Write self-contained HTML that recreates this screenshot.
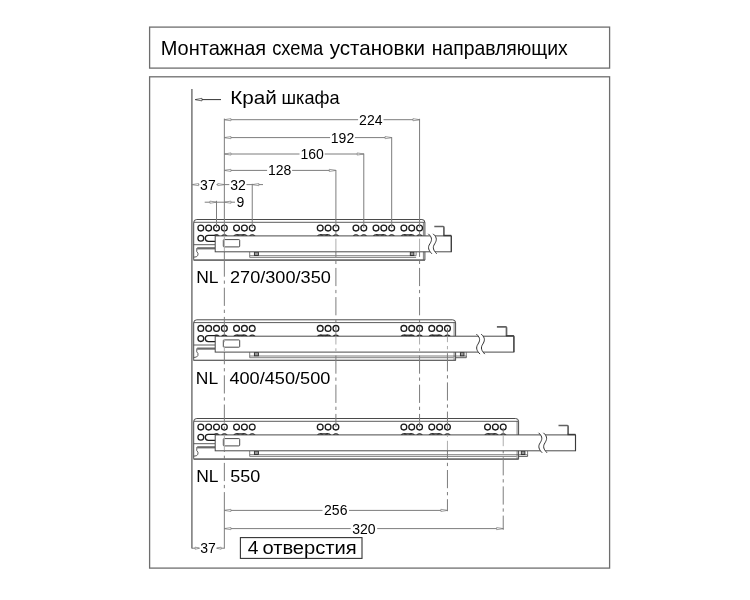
<!DOCTYPE html>
<html><head><meta charset="utf-8"><title>Монтажная схема</title>
<style>
html,body{margin:0;padding:0;background:#fff;}
body{width:750px;height:600px;overflow:hidden;font-family:"Liberation Sans",sans-serif;}
svg{display:block;}
svg text{font-family:"Liberation Sans",sans-serif;fill:#000;}
svg{will-change:transform;filter:grayscale(1);}
</style></head><body>
<svg width="750" height="600" viewBox="0 0 750 600">
<rect width="750" height="600" fill="#fff"/>
<defs><clipPath id="slides"><rect x="215.7" y="236.3" width="211" height="14.7"/><rect x="215.7" y="336.6" width="259" height="14.7"/><rect x="215.7" y="435.3" width="322" height="14.7"/></clipPath></defs>
<rect x="149.6" y="27.1" width="460" height="41" fill="#fff" stroke="#6e6e6e" stroke-width="1.3"/>
<rect x="149.6" y="76.8" width="460" height="491.3" fill="#fff" stroke="#6e6e6e" stroke-width="1.3"/>
<text x="160.70" y="55.30" font-size="19.8" text-anchor="start" textLength="105.5" lengthAdjust="spacingAndGlyphs">Монтажная</text>
<text x="272.20" y="55.30" font-size="19.8" text-anchor="start" textLength="51.1" lengthAdjust="spacingAndGlyphs">схема</text>
<text x="329.70" y="55.30" font-size="19.8" text-anchor="start" textLength="95.2" lengthAdjust="spacingAndGlyphs">установки</text>
<text x="431.70" y="55.30" font-size="19.8" text-anchor="start" textLength="136.1" lengthAdjust="spacingAndGlyphs">направляющих</text>
<text x="230.20" y="104.10" font-size="18.2" text-anchor="start" textLength="46.6" lengthAdjust="spacingAndGlyphs">Край</text>
<text x="281.50" y="104.10" font-size="18.2" text-anchor="start" textLength="58.1" lengthAdjust="spacingAndGlyphs">шкафа</text>
<line x1="191.90" y1="89.00" x2="191.90" y2="548.60" stroke="#6c6c6c" stroke-width="1.4" />
<line x1="195.50" y1="99.60" x2="221.00" y2="99.60" stroke="#333" stroke-width="1" />
<path d="M195.20 99.60 L202.00 98.30 L202.00 100.90 Z" fill="#fff" stroke="#333" stroke-width="0.7"/>
<line x1="224.35" y1="119.70" x2="358.10" y2="119.70" stroke="#7d7d7d" stroke-width="1" />
<line x1="383.50" y1="119.70" x2="419.57" y2="119.70" stroke="#7d7d7d" stroke-width="1" />
<path d="M224.35 119.70 L230.95 118.60 L230.95 120.80 Z" fill="#fff" stroke="#7d7d7d" stroke-width="0.7"/>
<path d="M419.57 119.70 L412.97 118.60 L412.97 120.80 Z" fill="#fff" stroke="#7d7d7d" stroke-width="0.7"/>
<text x="370.80" y="124.60" font-size="14" text-anchor="middle">224</text>
<line x1="224.35" y1="137.60" x2="330.10" y2="137.60" stroke="#7d7d7d" stroke-width="1" />
<line x1="354.90" y1="137.60" x2="391.68" y2="137.60" stroke="#7d7d7d" stroke-width="1" />
<path d="M224.35 137.60 L230.95 136.50 L230.95 138.70 Z" fill="#fff" stroke="#7d7d7d" stroke-width="0.7"/>
<path d="M391.68 137.60 L385.08 136.50 L385.08 138.70 Z" fill="#fff" stroke="#7d7d7d" stroke-width="0.7"/>
<text x="342.50" y="142.50" font-size="14" text-anchor="middle">192</text>
<line x1="224.35" y1="154.00" x2="299.50" y2="154.00" stroke="#7d7d7d" stroke-width="1" />
<line x1="324.70" y1="154.00" x2="363.79" y2="154.00" stroke="#7d7d7d" stroke-width="1" />
<path d="M224.35 154.00 L230.95 152.90 L230.95 155.10 Z" fill="#fff" stroke="#7d7d7d" stroke-width="0.7"/>
<path d="M363.79 154.00 L357.19 152.90 L357.19 155.10 Z" fill="#fff" stroke="#7d7d7d" stroke-width="0.7"/>
<text x="312.10" y="158.90" font-size="14" text-anchor="middle">160</text>
<line x1="224.35" y1="170.40" x2="267.10" y2="170.40" stroke="#7d7d7d" stroke-width="1" />
<line x1="292.10" y1="170.40" x2="335.90" y2="170.40" stroke="#7d7d7d" stroke-width="1" />
<path d="M224.35 170.40 L230.95 169.30 L230.95 171.50 Z" fill="#fff" stroke="#7d7d7d" stroke-width="0.7"/>
<path d="M335.90 170.40 L329.30 169.30 L329.30 171.50 Z" fill="#fff" stroke="#7d7d7d" stroke-width="0.7"/>
<text x="279.60" y="175.30" font-size="14" text-anchor="middle">128</text>
<line x1="192.00" y1="184.60" x2="199.30" y2="184.60" stroke="#7d7d7d" stroke-width="1" />
<line x1="216.50" y1="184.60" x2="229.30" y2="184.60" stroke="#7d7d7d" stroke-width="1" />
<line x1="246.50" y1="184.60" x2="263.00" y2="184.60" stroke="#7d7d7d" stroke-width="1" />
<path d="M192.00 184.60 L198.60 183.50 L198.60 185.70 Z" fill="#fff" stroke="#7d7d7d" stroke-width="0.7"/>
<path d="M224.35 184.60 L217.75 183.50 L217.75 185.70 Z" fill="#fff" stroke="#7d7d7d" stroke-width="0.7"/>
<path d="M252.24 184.60 L258.84 183.50 L258.84 185.70 Z" fill="#fff" stroke="#7d7d7d" stroke-width="0.7"/>
<text x="207.90" y="189.50" font-size="14" text-anchor="middle">37</text>
<text x="238.00" y="189.50" font-size="14" text-anchor="middle">32</text>
<line x1="204.70" y1="202.20" x2="235.00" y2="202.20" stroke="#7d7d7d" stroke-width="1" />
<path d="M216.51 202.20 L209.91 201.10 L209.91 203.30 Z" fill="#fff" stroke="#7d7d7d" stroke-width="0.7"/>
<path d="M224.35 202.20 L230.95 201.10 L230.95 203.30 Z" fill="#fff" stroke="#7d7d7d" stroke-width="0.7"/>
<text x="240.40" y="207.10" font-size="14" text-anchor="middle">9</text>
<line x1="224.35" y1="510.40" x2="322.50" y2="510.40" stroke="#7d7d7d" stroke-width="1" />
<line x1="349.00" y1="510.40" x2="447.45" y2="510.40" stroke="#7d7d7d" stroke-width="1" />
<path d="M224.35 510.40 L230.95 509.30 L230.95 511.50 Z" fill="#fff" stroke="#7d7d7d" stroke-width="0.7"/>
<path d="M447.45 510.40 L440.85 509.30 L440.85 511.50 Z" fill="#fff" stroke="#7d7d7d" stroke-width="0.7"/>
<text x="335.75" y="515.30" font-size="14" text-anchor="middle">256</text>
<line x1="224.35" y1="528.60" x2="350.70" y2="528.60" stroke="#7d7d7d" stroke-width="1" />
<line x1="377.20" y1="528.60" x2="503.23" y2="528.60" stroke="#7d7d7d" stroke-width="1" />
<path d="M224.35 528.60 L230.95 527.50 L230.95 529.70 Z" fill="#fff" stroke="#7d7d7d" stroke-width="0.7"/>
<path d="M503.23 528.60 L496.63 527.50 L496.63 529.70 Z" fill="#fff" stroke="#7d7d7d" stroke-width="0.7"/>
<text x="363.95" y="533.50" font-size="14" text-anchor="middle">320</text>
<line x1="224.35" y1="501.00" x2="224.35" y2="548.60" stroke="#7d7d7d" stroke-width="1" />
<line x1="192.00" y1="548.20" x2="199.20" y2="548.20" stroke="#7d7d7d" stroke-width="1" />
<line x1="216.80" y1="548.20" x2="224.35" y2="548.20" stroke="#7d7d7d" stroke-width="1" />
<path d="M199.60 548.20 L195.10 547.10 L195.10 549.30 Z" fill="#fff" stroke="#7d7d7d" stroke-width="0.7"/>
<path d="M216.60 548.20 L221.10 547.10 L221.10 549.30 Z" fill="#fff" stroke="#7d7d7d" stroke-width="0.7"/>
<text x="208.00" y="553.10" font-size="14" text-anchor="middle">37</text>
<rect x="240.4" y="537.6" width="121.6" height="20.8" fill="#fff" stroke="#333" stroke-width="1.1"/>
<text x="247.80" y="553.70" font-size="18" text-anchor="start" textLength="10.7" lengthAdjust="spacingAndGlyphs">4</text>
<text x="262.40" y="553.70" font-size="18" text-anchor="start" textLength="94.4" lengthAdjust="spacingAndGlyphs">отверстия</text>
<g transform="translate(0,0)">
<path d="M193.7 259.6 L193.7 222.6 Q193.7 219.5 196.8 219.5 L421.90 219.5 Q424.90 219.5 424.90 222.5 L424.90 260.1 L193.7 260.1 Z" fill="#fff" stroke="#4a4a4a" stroke-width="1"/>
<line x1="193.70" y1="222.30" x2="424.90" y2="222.30" stroke="#4a4a4a" stroke-width="0.9" />
<line x1="423.40" y1="222.30" x2="423.40" y2="260.10" stroke="#4a4a4a" stroke-width="0.7" />
<line x1="193.70" y1="260.10" x2="424.90" y2="260.10" stroke="#666" stroke-width="1.2" />
<line x1="193.70" y1="244.70" x2="215.20" y2="244.70" stroke="#4a4a4a" stroke-width="0.9" />
<line x1="197.20" y1="248.30" x2="215.20" y2="248.30" stroke="#6a6a6a" stroke-width="2.2" />
<path d="M196.9 248 L196.7 251.5 Q198.6 253 197.9 255.2 Q197.3 257.2 193.7 257.2" fill="none" stroke="#4a4a4a" stroke-width="0.9"/>
<circle cx="200.82" cy="228.1" r="2.9" fill="#fff" stroke="#1c1c1c" stroke-width="1.3"/>
<circle cx="208.66" cy="228.1" r="2.9" fill="#fff" stroke="#1c1c1c" stroke-width="1.3"/>
<circle cx="216.51" cy="228.1" r="2.9" fill="#fff" stroke="#1c1c1c" stroke-width="1.3"/>
<circle cx="216.51" cy="237.8" r="2.95" fill="#fff" stroke="#1c1c1c" stroke-width="1.3"/>
<circle cx="224.35" cy="228.1" r="2.9" fill="#fff" stroke="#1c1c1c" stroke-width="1.3"/>
<circle cx="224.35" cy="237.8" r="2.95" fill="#fff" stroke="#1c1c1c" stroke-width="1.3"/>
<circle cx="236.55" cy="228.1" r="2.9" fill="#fff" stroke="#1c1c1c" stroke-width="1.3"/>
<circle cx="236.55" cy="237.8" r="2.95" fill="#fff" stroke="#1c1c1c" stroke-width="1.3"/>
<circle cx="244.39" cy="228.1" r="2.9" fill="#fff" stroke="#1c1c1c" stroke-width="1.3"/>
<circle cx="244.39" cy="237.8" r="2.95" fill="#fff" stroke="#1c1c1c" stroke-width="1.3"/>
<circle cx="252.24" cy="228.1" r="2.9" fill="#fff" stroke="#1c1c1c" stroke-width="1.3"/>
<circle cx="252.24" cy="237.8" r="2.95" fill="#fff" stroke="#1c1c1c" stroke-width="1.3"/>
<circle cx="320.22" cy="228.1" r="2.9" fill="#fff" stroke="#1c1c1c" stroke-width="1.3"/>
<circle cx="320.22" cy="237.8" r="2.95" fill="#fff" stroke="#1c1c1c" stroke-width="1.3"/>
<circle cx="328.06" cy="228.1" r="2.9" fill="#fff" stroke="#1c1c1c" stroke-width="1.3"/>
<circle cx="328.06" cy="237.8" r="2.95" fill="#fff" stroke="#1c1c1c" stroke-width="1.3"/>
<circle cx="335.90" cy="228.1" r="2.9" fill="#fff" stroke="#1c1c1c" stroke-width="1.3"/>
<circle cx="335.90" cy="237.8" r="2.95" fill="#fff" stroke="#1c1c1c" stroke-width="1.3"/>
<circle cx="355.95" cy="228.1" r="2.9" fill="#fff" stroke="#1c1c1c" stroke-width="1.3"/>
<circle cx="355.95" cy="237.8" r="2.95" fill="#fff" stroke="#1c1c1c" stroke-width="1.3"/>
<circle cx="363.79" cy="228.1" r="2.9" fill="#fff" stroke="#1c1c1c" stroke-width="1.3"/>
<circle cx="363.79" cy="237.8" r="2.95" fill="#fff" stroke="#1c1c1c" stroke-width="1.3"/>
<circle cx="375.99" cy="228.1" r="2.9" fill="#fff" stroke="#1c1c1c" stroke-width="1.3"/>
<circle cx="375.99" cy="237.8" r="2.95" fill="#fff" stroke="#1c1c1c" stroke-width="1.3"/>
<circle cx="383.83" cy="228.1" r="2.9" fill="#fff" stroke="#1c1c1c" stroke-width="1.3"/>
<circle cx="383.83" cy="237.8" r="2.95" fill="#fff" stroke="#1c1c1c" stroke-width="1.3"/>
<circle cx="391.68" cy="228.1" r="2.9" fill="#fff" stroke="#1c1c1c" stroke-width="1.3"/>
<circle cx="391.68" cy="237.8" r="2.95" fill="#fff" stroke="#1c1c1c" stroke-width="1.3"/>
<circle cx="403.88" cy="228.1" r="2.9" fill="#fff" stroke="#1c1c1c" stroke-width="1.3"/>
<circle cx="403.88" cy="237.8" r="2.95" fill="#fff" stroke="#1c1c1c" stroke-width="1.3"/>
<circle cx="411.72" cy="228.1" r="2.9" fill="#fff" stroke="#1c1c1c" stroke-width="1.3"/>
<circle cx="411.72" cy="237.8" r="2.95" fill="#fff" stroke="#1c1c1c" stroke-width="1.3"/>
<circle cx="419.57" cy="228.1" r="2.9" fill="#fff" stroke="#1c1c1c" stroke-width="1.3"/>
<circle cx="419.57" cy="237.8" r="2.95" fill="#fff" stroke="#1c1c1c" stroke-width="1.3"/>
<line x1="236.55" y1="234.95" x2="244.39" y2="234.95" stroke="#1c1c1c" stroke-width="1.3" />
<line x1="320.22" y1="234.95" x2="328.06" y2="234.95" stroke="#1c1c1c" stroke-width="1.3" />
<line x1="375.99" y1="234.95" x2="383.83" y2="234.95" stroke="#1c1c1c" stroke-width="1.3" />
<line x1="403.88" y1="234.95" x2="411.72" y2="234.95" stroke="#1c1c1c" stroke-width="1.3" />
<circle cx="200.82" cy="238.3" r="2.9" fill="#fff" stroke="#1c1c1c" stroke-width="1.3"/>
<path d="M218 235.3 L208.3 235.3 A3 3 0 0 0 208.3 241.3 L218 241.3" fill="#fff" stroke="#1c1c1c" stroke-width="1.3"/>
<path d="M249.7 251.8 L249.7 257.4 L416.10 257.4" fill="none" stroke="#555" stroke-width="0.75"/>
<path d="M249.7 255.7 L416.10 255.7 L416.10 251.8" fill="none" stroke="#555" stroke-width="0.75"/>
<rect x="254.4" y="252.1" width="4" height="3.4" fill="#999" stroke="#2a2a2a" stroke-width="0.9"/>
<rect x="410.30" y="252.1" width="3.6" height="3.4" fill="#999" stroke="#2a2a2a" stroke-width="0.9"/>
</g>
<g transform="translate(0,100.3)">
<path d="M193.7 259.6 L193.7 222.6 Q193.7 219.5 196.8 219.5 L452.60 219.5 Q455.60 219.5 455.60 222.5 L455.60 260.1 L193.7 260.1 Z" fill="#fff" stroke="#4a4a4a" stroke-width="1"/>
<line x1="193.70" y1="222.30" x2="455.60" y2="222.30" stroke="#4a4a4a" stroke-width="0.9" />
<line x1="454.10" y1="222.30" x2="454.10" y2="260.10" stroke="#4a4a4a" stroke-width="0.7" />
<line x1="193.70" y1="260.10" x2="455.60" y2="260.10" stroke="#666" stroke-width="1.2" />
<line x1="193.70" y1="244.70" x2="215.20" y2="244.70" stroke="#4a4a4a" stroke-width="0.9" />
<line x1="197.20" y1="248.30" x2="215.20" y2="248.30" stroke="#6a6a6a" stroke-width="2.2" />
<path d="M196.9 248 L196.7 251.5 Q198.6 253 197.9 255.2 Q197.3 257.2 193.7 257.2" fill="none" stroke="#4a4a4a" stroke-width="0.9"/>
<circle cx="200.82" cy="228.1" r="2.9" fill="#fff" stroke="#1c1c1c" stroke-width="1.3"/>
<circle cx="208.66" cy="228.1" r="2.9" fill="#fff" stroke="#1c1c1c" stroke-width="1.3"/>
<circle cx="216.51" cy="228.1" r="2.9" fill="#fff" stroke="#1c1c1c" stroke-width="1.3"/>
<circle cx="216.51" cy="237.8" r="2.95" fill="#fff" stroke="#1c1c1c" stroke-width="1.3"/>
<circle cx="224.35" cy="228.1" r="2.9" fill="#fff" stroke="#1c1c1c" stroke-width="1.3"/>
<circle cx="224.35" cy="237.8" r="2.95" fill="#fff" stroke="#1c1c1c" stroke-width="1.3"/>
<circle cx="236.55" cy="228.1" r="2.9" fill="#fff" stroke="#1c1c1c" stroke-width="1.3"/>
<circle cx="236.55" cy="237.8" r="2.95" fill="#fff" stroke="#1c1c1c" stroke-width="1.3"/>
<circle cx="244.39" cy="228.1" r="2.9" fill="#fff" stroke="#1c1c1c" stroke-width="1.3"/>
<circle cx="244.39" cy="237.8" r="2.95" fill="#fff" stroke="#1c1c1c" stroke-width="1.3"/>
<circle cx="252.24" cy="228.1" r="2.9" fill="#fff" stroke="#1c1c1c" stroke-width="1.3"/>
<circle cx="252.24" cy="237.8" r="2.95" fill="#fff" stroke="#1c1c1c" stroke-width="1.3"/>
<circle cx="320.22" cy="228.1" r="2.9" fill="#fff" stroke="#1c1c1c" stroke-width="1.3"/>
<circle cx="320.22" cy="237.8" r="2.95" fill="#fff" stroke="#1c1c1c" stroke-width="1.3"/>
<circle cx="328.06" cy="228.1" r="2.9" fill="#fff" stroke="#1c1c1c" stroke-width="1.3"/>
<circle cx="328.06" cy="237.8" r="2.95" fill="#fff" stroke="#1c1c1c" stroke-width="1.3"/>
<circle cx="335.90" cy="228.1" r="2.9" fill="#fff" stroke="#1c1c1c" stroke-width="1.3"/>
<circle cx="335.90" cy="237.8" r="2.95" fill="#fff" stroke="#1c1c1c" stroke-width="1.3"/>
<circle cx="403.88" cy="228.1" r="2.9" fill="#fff" stroke="#1c1c1c" stroke-width="1.3"/>
<circle cx="403.88" cy="237.8" r="2.95" fill="#fff" stroke="#1c1c1c" stroke-width="1.3"/>
<circle cx="411.72" cy="228.1" r="2.9" fill="#fff" stroke="#1c1c1c" stroke-width="1.3"/>
<circle cx="411.72" cy="237.8" r="2.95" fill="#fff" stroke="#1c1c1c" stroke-width="1.3"/>
<circle cx="419.57" cy="228.1" r="2.9" fill="#fff" stroke="#1c1c1c" stroke-width="1.3"/>
<circle cx="419.57" cy="237.8" r="2.95" fill="#fff" stroke="#1c1c1c" stroke-width="1.3"/>
<circle cx="431.77" cy="228.1" r="2.9" fill="#fff" stroke="#1c1c1c" stroke-width="1.3"/>
<circle cx="431.77" cy="237.8" r="2.95" fill="#fff" stroke="#1c1c1c" stroke-width="1.3"/>
<circle cx="439.61" cy="228.1" r="2.9" fill="#fff" stroke="#1c1c1c" stroke-width="1.3"/>
<circle cx="439.61" cy="237.8" r="2.95" fill="#fff" stroke="#1c1c1c" stroke-width="1.3"/>
<circle cx="447.45" cy="228.1" r="2.9" fill="#fff" stroke="#1c1c1c" stroke-width="1.3"/>
<circle cx="447.45" cy="237.8" r="2.95" fill="#fff" stroke="#1c1c1c" stroke-width="1.3"/>
<line x1="236.55" y1="234.95" x2="244.39" y2="234.95" stroke="#1c1c1c" stroke-width="1.3" />
<line x1="320.22" y1="234.95" x2="328.06" y2="234.95" stroke="#1c1c1c" stroke-width="1.3" />
<line x1="403.88" y1="234.95" x2="411.72" y2="234.95" stroke="#1c1c1c" stroke-width="1.3" />
<line x1="431.77" y1="234.95" x2="439.61" y2="234.95" stroke="#1c1c1c" stroke-width="1.3" />
<circle cx="200.82" cy="238.3" r="2.9" fill="#fff" stroke="#1c1c1c" stroke-width="1.3"/>
<path d="M218 235.3 L208.3 235.3 A3 3 0 0 0 208.3 241.3 L218 241.3" fill="#fff" stroke="#1c1c1c" stroke-width="1.3"/>
<path d="M249.7 251.8 L249.7 257.4 L453.60 257.4" fill="none" stroke="#555" stroke-width="0.75"/>
<path d="M249.7 255.7 L466.30 255.7 L466.30 251.8" fill="none" stroke="#555" stroke-width="0.75"/>
<path d="M455.60 257.4 L466.30 257.4 L466.30 255.7" fill="none" stroke="#4a4a4a" stroke-width="0.9"/>
<rect x="254.4" y="252.1" width="4" height="3.4" fill="#999" stroke="#2a2a2a" stroke-width="0.9"/>
<rect x="460.40" y="252.1" width="3.6" height="3.4" fill="#999" stroke="#2a2a2a" stroke-width="0.9"/>
</g>
<g transform="translate(0,199.0)">
<path d="M193.7 259.6 L193.7 222.6 Q193.7 219.5 196.8 219.5 L515.60 219.5 Q518.60 219.5 518.60 222.5 L518.60 260.1 L193.7 260.1 Z" fill="#fff" stroke="#4a4a4a" stroke-width="1"/>
<line x1="193.70" y1="222.30" x2="518.60" y2="222.30" stroke="#4a4a4a" stroke-width="0.9" />
<line x1="517.10" y1="222.30" x2="517.10" y2="260.10" stroke="#4a4a4a" stroke-width="0.7" />
<line x1="193.70" y1="260.10" x2="518.60" y2="260.10" stroke="#666" stroke-width="1.2" />
<line x1="193.70" y1="244.70" x2="215.20" y2="244.70" stroke="#4a4a4a" stroke-width="0.9" />
<line x1="197.20" y1="248.30" x2="215.20" y2="248.30" stroke="#6a6a6a" stroke-width="2.2" />
<path d="M196.9 248 L196.7 251.5 Q198.6 253 197.9 255.2 Q197.3 257.2 193.7 257.2" fill="none" stroke="#4a4a4a" stroke-width="0.9"/>
<circle cx="200.82" cy="228.1" r="2.9" fill="#fff" stroke="#1c1c1c" stroke-width="1.3"/>
<circle cx="208.66" cy="228.1" r="2.9" fill="#fff" stroke="#1c1c1c" stroke-width="1.3"/>
<circle cx="216.51" cy="228.1" r="2.9" fill="#fff" stroke="#1c1c1c" stroke-width="1.3"/>
<circle cx="216.51" cy="237.8" r="2.95" fill="#fff" stroke="#1c1c1c" stroke-width="1.3"/>
<circle cx="224.35" cy="228.1" r="2.9" fill="#fff" stroke="#1c1c1c" stroke-width="1.3"/>
<circle cx="224.35" cy="237.8" r="2.95" fill="#fff" stroke="#1c1c1c" stroke-width="1.3"/>
<circle cx="236.55" cy="228.1" r="2.9" fill="#fff" stroke="#1c1c1c" stroke-width="1.3"/>
<circle cx="236.55" cy="237.8" r="2.95" fill="#fff" stroke="#1c1c1c" stroke-width="1.3"/>
<circle cx="244.39" cy="228.1" r="2.9" fill="#fff" stroke="#1c1c1c" stroke-width="1.3"/>
<circle cx="244.39" cy="237.8" r="2.95" fill="#fff" stroke="#1c1c1c" stroke-width="1.3"/>
<circle cx="252.24" cy="228.1" r="2.9" fill="#fff" stroke="#1c1c1c" stroke-width="1.3"/>
<circle cx="252.24" cy="237.8" r="2.95" fill="#fff" stroke="#1c1c1c" stroke-width="1.3"/>
<circle cx="320.22" cy="228.1" r="2.9" fill="#fff" stroke="#1c1c1c" stroke-width="1.3"/>
<circle cx="320.22" cy="237.8" r="2.95" fill="#fff" stroke="#1c1c1c" stroke-width="1.3"/>
<circle cx="328.06" cy="228.1" r="2.9" fill="#fff" stroke="#1c1c1c" stroke-width="1.3"/>
<circle cx="328.06" cy="237.8" r="2.95" fill="#fff" stroke="#1c1c1c" stroke-width="1.3"/>
<circle cx="335.90" cy="228.1" r="2.9" fill="#fff" stroke="#1c1c1c" stroke-width="1.3"/>
<circle cx="335.90" cy="237.8" r="2.95" fill="#fff" stroke="#1c1c1c" stroke-width="1.3"/>
<circle cx="403.88" cy="228.1" r="2.9" fill="#fff" stroke="#1c1c1c" stroke-width="1.3"/>
<circle cx="403.88" cy="237.8" r="2.95" fill="#fff" stroke="#1c1c1c" stroke-width="1.3"/>
<circle cx="411.72" cy="228.1" r="2.9" fill="#fff" stroke="#1c1c1c" stroke-width="1.3"/>
<circle cx="411.72" cy="237.8" r="2.95" fill="#fff" stroke="#1c1c1c" stroke-width="1.3"/>
<circle cx="419.57" cy="228.1" r="2.9" fill="#fff" stroke="#1c1c1c" stroke-width="1.3"/>
<circle cx="419.57" cy="237.8" r="2.95" fill="#fff" stroke="#1c1c1c" stroke-width="1.3"/>
<circle cx="431.77" cy="228.1" r="2.9" fill="#fff" stroke="#1c1c1c" stroke-width="1.3"/>
<circle cx="431.77" cy="237.8" r="2.95" fill="#fff" stroke="#1c1c1c" stroke-width="1.3"/>
<circle cx="439.61" cy="228.1" r="2.9" fill="#fff" stroke="#1c1c1c" stroke-width="1.3"/>
<circle cx="439.61" cy="237.8" r="2.95" fill="#fff" stroke="#1c1c1c" stroke-width="1.3"/>
<circle cx="447.45" cy="228.1" r="2.9" fill="#fff" stroke="#1c1c1c" stroke-width="1.3"/>
<circle cx="447.45" cy="237.8" r="2.95" fill="#fff" stroke="#1c1c1c" stroke-width="1.3"/>
<circle cx="487.54" cy="228.1" r="2.9" fill="#fff" stroke="#1c1c1c" stroke-width="1.3"/>
<circle cx="487.54" cy="237.8" r="2.95" fill="#fff" stroke="#1c1c1c" stroke-width="1.3"/>
<circle cx="495.39" cy="228.1" r="2.9" fill="#fff" stroke="#1c1c1c" stroke-width="1.3"/>
<circle cx="495.39" cy="237.8" r="2.95" fill="#fff" stroke="#1c1c1c" stroke-width="1.3"/>
<circle cx="503.23" cy="228.1" r="2.9" fill="#fff" stroke="#1c1c1c" stroke-width="1.3"/>
<circle cx="503.23" cy="237.8" r="2.95" fill="#fff" stroke="#1c1c1c" stroke-width="1.3"/>
<line x1="236.55" y1="234.95" x2="244.39" y2="234.95" stroke="#1c1c1c" stroke-width="1.3" />
<line x1="320.22" y1="234.95" x2="328.06" y2="234.95" stroke="#1c1c1c" stroke-width="1.3" />
<line x1="403.88" y1="234.95" x2="411.72" y2="234.95" stroke="#1c1c1c" stroke-width="1.3" />
<line x1="431.77" y1="234.95" x2="439.61" y2="234.95" stroke="#1c1c1c" stroke-width="1.3" />
<line x1="487.54" y1="234.95" x2="495.39" y2="234.95" stroke="#1c1c1c" stroke-width="1.3" />
<circle cx="200.82" cy="238.3" r="2.9" fill="#fff" stroke="#1c1c1c" stroke-width="1.3"/>
<path d="M218 235.3 L208.3 235.3 A3 3 0 0 0 208.3 241.3 L218 241.3" fill="#fff" stroke="#1c1c1c" stroke-width="1.3"/>
<path d="M249.7 251.8 L249.7 257.4 L516.60 257.4" fill="none" stroke="#555" stroke-width="0.75"/>
<path d="M249.7 255.7 L527.60 255.7 L527.60 251.8" fill="none" stroke="#555" stroke-width="0.75"/>
<path d="M518.60 257.4 L527.60 257.4 L527.60 255.7" fill="none" stroke="#4a4a4a" stroke-width="0.9"/>
<rect x="254.4" y="252.1" width="4" height="3.4" fill="#999" stroke="#2a2a2a" stroke-width="0.9"/>
<rect x="521.30" y="252.1" width="3.6" height="3.4" fill="#999" stroke="#2a2a2a" stroke-width="0.9"/>
</g>
<line x1="224.35" y1="118.60" x2="224.35" y2="259.60" stroke="#7d7d7d" stroke-width="1" />
<line x1="224.35" y1="259.60" x2="224.35" y2="501.00" stroke="#7d7d7d" stroke-width="1" stroke-dasharray="18.20 3.8 3.3 3.9" stroke-dashoffset="1.10"/>
<line x1="335.90" y1="170.00" x2="335.90" y2="219.50" stroke="#7d7d7d" stroke-width="1" />
<line x1="335.90" y1="219.50" x2="335.90" y2="427.00" stroke="#7d7d7d" stroke-width="1" stroke-dasharray="18.20 3.8 3.3 3.9" stroke-dashoffset="10.00"/>
<line x1="363.79" y1="153.60" x2="363.79" y2="228.00" stroke="#7d7d7d" stroke-width="1" />
<line x1="391.68" y1="137.20" x2="391.68" y2="228.00" stroke="#7d7d7d" stroke-width="1" />
<line x1="419.57" y1="118.80" x2="419.57" y2="211.00" stroke="#7d7d7d" stroke-width="1" />
<line x1="419.57" y1="211.00" x2="419.57" y2="427.00" stroke="#7d7d7d" stroke-width="1" stroke-dasharray="18.20 3.8 3.3 3.9" stroke-dashoffset="1.50"/>
<line x1="447.45" y1="328.00" x2="447.45" y2="511.20" stroke="#7d7d7d" stroke-width="1" stroke-dasharray="18.20 3.8 3.3 3.9" stroke-dashoffset="4.00"/>
<line x1="503.23" y1="427.00" x2="503.23" y2="529.80" stroke="#7d7d7d" stroke-width="1" stroke-dasharray="18.20 3.8 3.3 3.9" stroke-dashoffset="28.20"/>
<line x1="252.24" y1="183.80" x2="252.24" y2="228.00" stroke="#7d7d7d" stroke-width="1" />
<line x1="216.51" y1="200.80" x2="216.51" y2="228.00" stroke="#7d7d7d" stroke-width="1" />
<g transform="translate(0,0)">
<rect x="215.2" y="235.9" width="236.10" height="15.9" fill="#fff" stroke="#4a4a4a" stroke-width="1"/>
<line x1="451.30" y1="235.90" x2="451.30" y2="251.80" stroke="#3a3a3a" stroke-width="1.15" />
<rect x="223.3" y="239.6" width="16.4" height="7.3" rx="0.8" fill="#fff" stroke="#4a4a4a" stroke-width="1"/>
<path d="M434.30 226.5 L443.10 226.5 Q443.90 226.5 443.90 227.5 L443.90 235.8" fill="none" stroke="#626262" stroke-width="1.7"/>
<line x1="443.30" y1="235.50" x2="451.30" y2="235.50" stroke="#3a3a3a" stroke-width="1.4" />
</g>
<g transform="translate(0,0)">
<path d="M428.30 233.8 C433.10 238 431.50 241 429.90 243.8 C427.30 247.5 428.70 250.5 431.90 253.8 L436.70 253.8 C433.50 250.5 432.10 247.5 434.70 243.8 C436.30 241 437.90 238 433.10 233.8 Z" fill="#fff" stroke="none"/>
<path d="M428.30 233.8 C433.10 238 431.50 241 429.90 243.8 C427.30 247.5 428.70 250.5 431.90 253.8" fill="none" stroke="#333" stroke-width="1"/>
<path d="M433.10 233.8 C437.90 238 436.30 241 434.70 243.8 C432.10 247.5 433.50 250.5 436.70 253.8" fill="none" stroke="#333" stroke-width="1"/>
</g>
<g transform="translate(0,100.3)">
<rect x="215.2" y="235.9" width="298.70" height="15.9" fill="#fff" stroke="#4a4a4a" stroke-width="1"/>
<line x1="513.90" y1="235.90" x2="513.90" y2="251.80" stroke="#3a3a3a" stroke-width="1.15" />
<rect x="223.3" y="239.6" width="16.4" height="7.3" rx="0.8" fill="#fff" stroke="#4a4a4a" stroke-width="1"/>
<path d="M496.90 226.5 L505.70 226.5 Q506.50 226.5 506.50 227.5 L506.50 235.8" fill="none" stroke="#626262" stroke-width="1.7"/>
<line x1="505.90" y1="235.50" x2="513.90" y2="235.50" stroke="#3a3a3a" stroke-width="1.4" />
</g>
<g transform="translate(0,100.3)">
<path d="M476.40 233.8 C481.20 238 479.60 241 478.00 243.8 C475.40 247.5 476.80 250.5 480.00 253.8 L484.80 253.8 C481.60 250.5 480.20 247.5 482.80 243.8 C484.40 241 486.00 238 481.20 233.8 Z" fill="#fff" stroke="none"/>
<path d="M476.40 233.8 C481.20 238 479.60 241 478.00 243.8 C475.40 247.5 476.80 250.5 480.00 253.8" fill="none" stroke="#333" stroke-width="1"/>
<path d="M481.20 233.8 C486.00 238 484.40 241 482.80 243.8 C480.20 247.5 481.60 250.5 484.80 253.8" fill="none" stroke="#333" stroke-width="1"/>
</g>
<g transform="translate(0,199.0)">
<rect x="215.2" y="235.9" width="360.30" height="15.9" fill="#fff" stroke="#4a4a4a" stroke-width="1"/>
<line x1="575.50" y1="235.90" x2="575.50" y2="251.80" stroke="#3a3a3a" stroke-width="1.15" />
<rect x="223.3" y="239.6" width="16.4" height="7.3" rx="0.8" fill="#fff" stroke="#4a4a4a" stroke-width="1"/>
<path d="M558.50 226.5 L567.30 226.5 Q568.10 226.5 568.10 227.5 L568.10 235.8" fill="none" stroke="#626262" stroke-width="1.7"/>
<line x1="567.50" y1="235.50" x2="575.50" y2="235.50" stroke="#3a3a3a" stroke-width="1.4" />
</g>
<g transform="translate(0,199.0)">
<path d="M538.60 233.8 C543.40 238 541.80 241 540.20 243.8 C537.60 247.5 539.00 250.5 542.20 253.8 L547.00 253.8 C543.80 250.5 542.40 247.5 545.00 243.8 C546.60 241 548.20 238 543.40 233.8 Z" fill="#fff" stroke="none"/>
<path d="M538.60 233.8 C543.40 238 541.80 241 540.20 243.8 C537.60 247.5 539.00 250.5 542.20 253.8" fill="none" stroke="#333" stroke-width="1"/>
<path d="M543.40 233.8 C548.20 238 546.60 241 545.00 243.8 C542.40 247.5 543.80 250.5 547.00 253.8" fill="none" stroke="#333" stroke-width="1"/>
</g>
<g clip-path="url(#slides)"><line x1="224.35" y1="118.60" x2="224.35" y2="259.60" stroke="#adadad" stroke-width="1" />
<line x1="224.35" y1="259.60" x2="224.35" y2="501.00" stroke="#adadad" stroke-width="1" stroke-dasharray="18.20 3.8 3.3 3.9" stroke-dashoffset="1.10"/>
<line x1="335.90" y1="170.00" x2="335.90" y2="219.50" stroke="#adadad" stroke-width="1" />
<line x1="335.90" y1="219.50" x2="335.90" y2="427.00" stroke="#adadad" stroke-width="1" stroke-dasharray="18.20 3.8 3.3 3.9" stroke-dashoffset="10.00"/>
<line x1="363.79" y1="153.60" x2="363.79" y2="228.00" stroke="#adadad" stroke-width="1" />
<line x1="391.68" y1="137.20" x2="391.68" y2="228.00" stroke="#adadad" stroke-width="1" />
<line x1="419.57" y1="118.80" x2="419.57" y2="211.00" stroke="#adadad" stroke-width="1" />
<line x1="419.57" y1="211.00" x2="419.57" y2="427.00" stroke="#adadad" stroke-width="1" stroke-dasharray="18.20 3.8 3.3 3.9" stroke-dashoffset="1.50"/>
<line x1="447.45" y1="328.00" x2="447.45" y2="511.20" stroke="#adadad" stroke-width="1" stroke-dasharray="18.20 3.8 3.3 3.9" stroke-dashoffset="4.00"/>
<line x1="503.23" y1="427.00" x2="503.23" y2="529.80" stroke="#adadad" stroke-width="1" stroke-dasharray="18.20 3.8 3.3 3.9" stroke-dashoffset="28.20"/>
<line x1="252.24" y1="183.80" x2="252.24" y2="228.00" stroke="#adadad" stroke-width="1" />
<line x1="216.51" y1="200.80" x2="216.51" y2="228.00" stroke="#adadad" stroke-width="1" /></g>
<text x="196.20" y="282.80" font-size="17.4" text-anchor="start" textLength="22.3" lengthAdjust="spacingAndGlyphs">NL</text>
<text x="230.00" y="282.80" font-size="17.4" text-anchor="start" textLength="100.8" lengthAdjust="spacingAndGlyphs">270/300/350</text>
<text x="195.80" y="383.60" font-size="17.4" text-anchor="start" textLength="22.3" lengthAdjust="spacingAndGlyphs">NL</text>
<text x="229.40" y="383.80" font-size="17.4" text-anchor="start" textLength="101.0" lengthAdjust="spacingAndGlyphs">400/450/500</text>
<text x="196.20" y="481.60" font-size="17.4" text-anchor="start" textLength="22.3" lengthAdjust="spacingAndGlyphs">NL</text>
<text x="230.20" y="481.60" font-size="17.4" text-anchor="start" textLength="30.0" lengthAdjust="spacingAndGlyphs">550</text>
</svg>
</body></html>
